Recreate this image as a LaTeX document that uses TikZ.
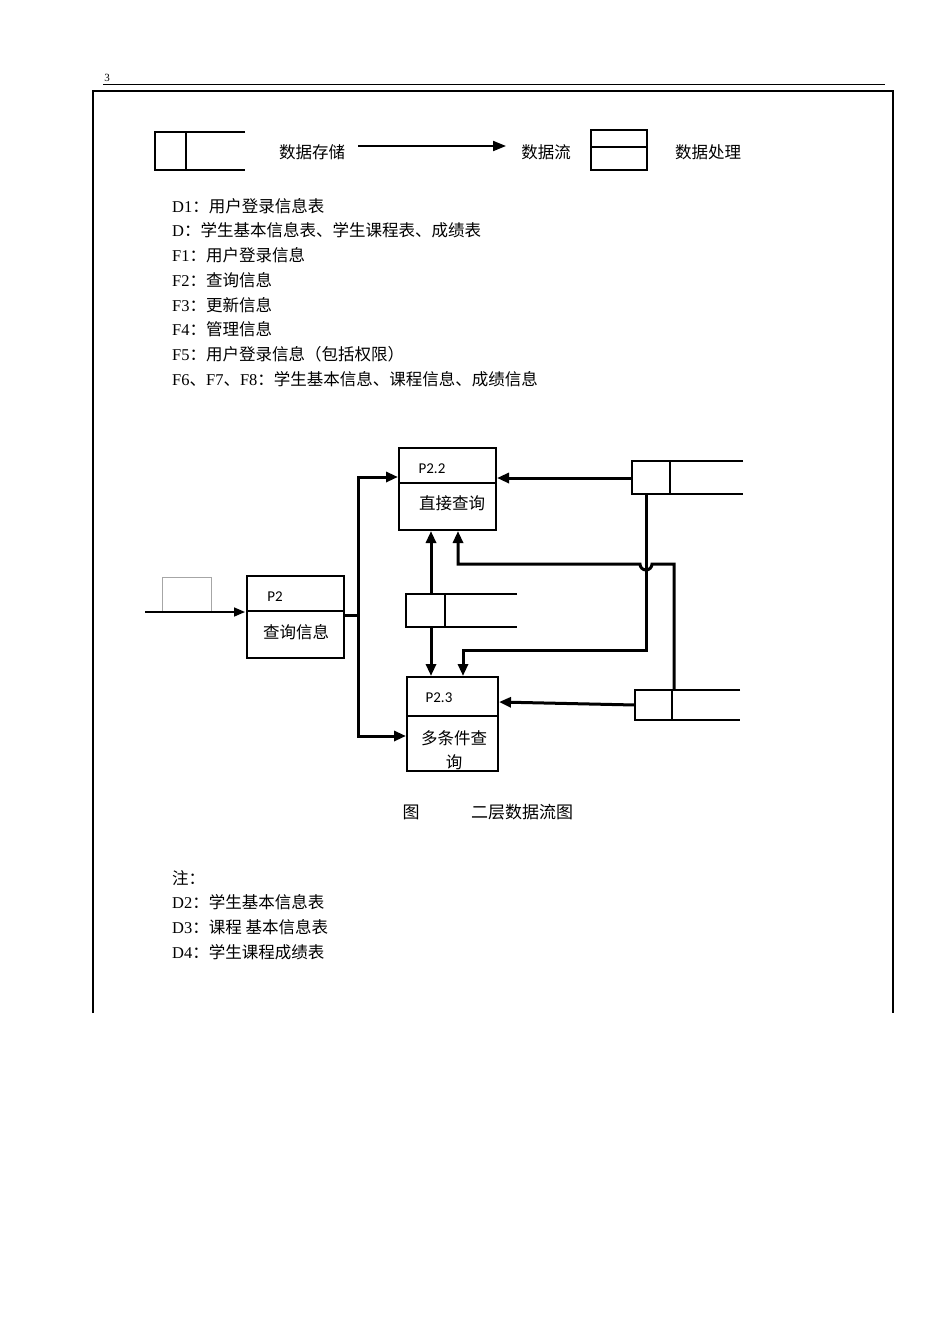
\documentclass[tikz,border=0pt]{standalone}
\usepackage{fontspec}
\setmainfont{Liberation Serif}
\newfontfamily\cjk{Noto Sans CJK SC}
\newfontfamily\psans{Carlito}
\usetikzlibrary{arrows.meta}
\begin{document}
\begin{tikzpicture}[x=1pt,y=-1pt,
  thk/.style={line width=3pt,-{Triangle[length=12pt,width=10pt]}},
  txt/.style={anchor=west,inner sep=0pt,font=\fontsize{16.5}{18}\selectfont},
  ctr/.style={inner sep=0pt,font=\fontsize{16.5}{18}\selectfont},
  cj/.style={font=\cjk\fontsize{16.5}{18}\selectfont},
  pl/.style={inner sep=0pt,font=\psans\fontsize{15}{16}\selectfont}]
\useasboundingbox (0,0) rectangle (950,1344);
% header and frame
\node[inner sep=0pt,font=\fontsize{11}{12}\selectfont] (pg) at (107,78) {3};
\draw[line width=0.8pt] (103,84) -- (885,84);
\draw[line width=1.8pt] (93,1013) -- (93,91) -- (893,91) -- (893,1013);
% legend
\draw[line width=1.2pt] (245,132) -- (155,132) -- (155,170) -- (245,170) (186,132) -- (186,170);
\node[ctr,cj] (l1) at (312,152) {数据存储};
\coordinate (la) at (358,146); \coordinate (lb) at (506,146);
\draw[line width=2pt,-{Triangle[length=13pt,width=10pt]}] (la) -- (lb);
\node[ctr,cj] (l2) at (546,152) {数据流};
\draw[line width=1.2pt] (591,130) rectangle (647,170) (591,147) -- (647,147);
\node[ctr,cj] (l3) at (708,152) {数据处理};
% definitions
\node[txt] (t1) at (172,206) {D1{\cjk ：用户登录信息表}};
\node[txt] (t2) at (172,230) {D{\cjk ：学生基本信息表、学生课程表、成绩表}};
\node[txt] (t3) at (172,255) {F1{\cjk ：用户登录信息}};
\node[txt] (t4) at (172,280) {F2{\cjk ：查询信息}};
\node[txt] (t5) at (172,305) {F3{\cjk ：更新信息}};
\node[txt] (t6) at (172,329) {F4{\cjk ：管理信息}};
\node[txt] (t7) at (172,354) {F5{\cjk ：用户登录信息（包括权限）}};
\node[txt] (t8) at (172,379) {F6{\cjk 、}F7{\cjk 、}F8{\cjk ：学生基本信息、课程信息、成绩信息}};
% processes
\draw[line width=1.4pt] (399,448) rectangle (496,530) (399,483) -- (496,483);
\node[pl] (p22) at (432,469) {P2.2};
\node[ctr,cj] (p22t) at (452,503) {直接查询};
\draw[line width=1.4pt] (247,576) rectangle (344,658) (247,611) -- (344,611);
\node[pl] (p2) at (275,597) {P2};
\node[ctr,cj] (p2t) at (296,632) {查询信息};
\draw[line width=1.4pt] (407,677) rectangle (498,771) (407,716) -- (498,716);
\node[pl] (p23) at (439,698) {P2.3};
\node[ctr,cj] (p23t) at (454,738) {多条件查};
\node[ctr,cj] (p23u) at (454,762) {询};
% stores
\draw[line width=1.2pt] (743,461) -- (632,461) -- (632,494) -- (743,494) (670,461) -- (670,494);
\draw[line width=1.2pt] (517,594) -- (406,594) -- (406,627) -- (517,627) (445,594) -- (445,627);
\draw[line width=1.2pt] (740,690) -- (635,690) -- (635,720) -- (740,720) (672,690) -- (672,720);
\draw[gray!70,line width=0.7pt] (162,612) -- (162,577) -- (211,577) -- (211,612);
% flows
\draw[line width=1.6pt,-{Triangle[length=11pt,width=9pt]}] (145,612) -- (245,612);
\draw[line width=3pt] (344,615) -- (358,615);
\draw[thk] (358,615) -- (358,477) -- (398,477);
\draw[thk] (358,615) -- (358,736) -- (406,736);
\draw[thk] (632,478) -- (497,478);
\draw[thk] (635,705) -- (499,702);
\draw[thk] (431,594) -- (431,531);
\draw[thk] (431,627) -- (431,676);
\draw[thk] (646,494) -- (646,650) -- (463,650) -- (463,676);
\draw[thk] (674,690) -- (674,564) -- (652,564) arc[start angle=0,end angle=180,radius=6] -- (458,564) -- (458,531);
% caption
\node[inner sep=0pt,font=\cjk\fontsize{17}{18}\selectfont] (c1) at (411,812) {图};
\node[inner sep=0pt,font=\cjk\fontsize{17}{18}\selectfont] (c2) at (522,812) {二层数据流图};
% notes
\node[txt,font=\cjk\fontsize{16.5}{18}\selectfont] (n0) at (172,878) {注：};
\node[txt] (n1) at (172,902) {D2{\cjk ：学生基本信息表}};
\node[txt] (n2) at (172,927) {D3{\cjk ：课程\ 基本信息表}};
\node[txt] (n3) at (172,952) {D4{\cjk ：学生课程成绩表}};
\end{tikzpicture}
\end{document}
